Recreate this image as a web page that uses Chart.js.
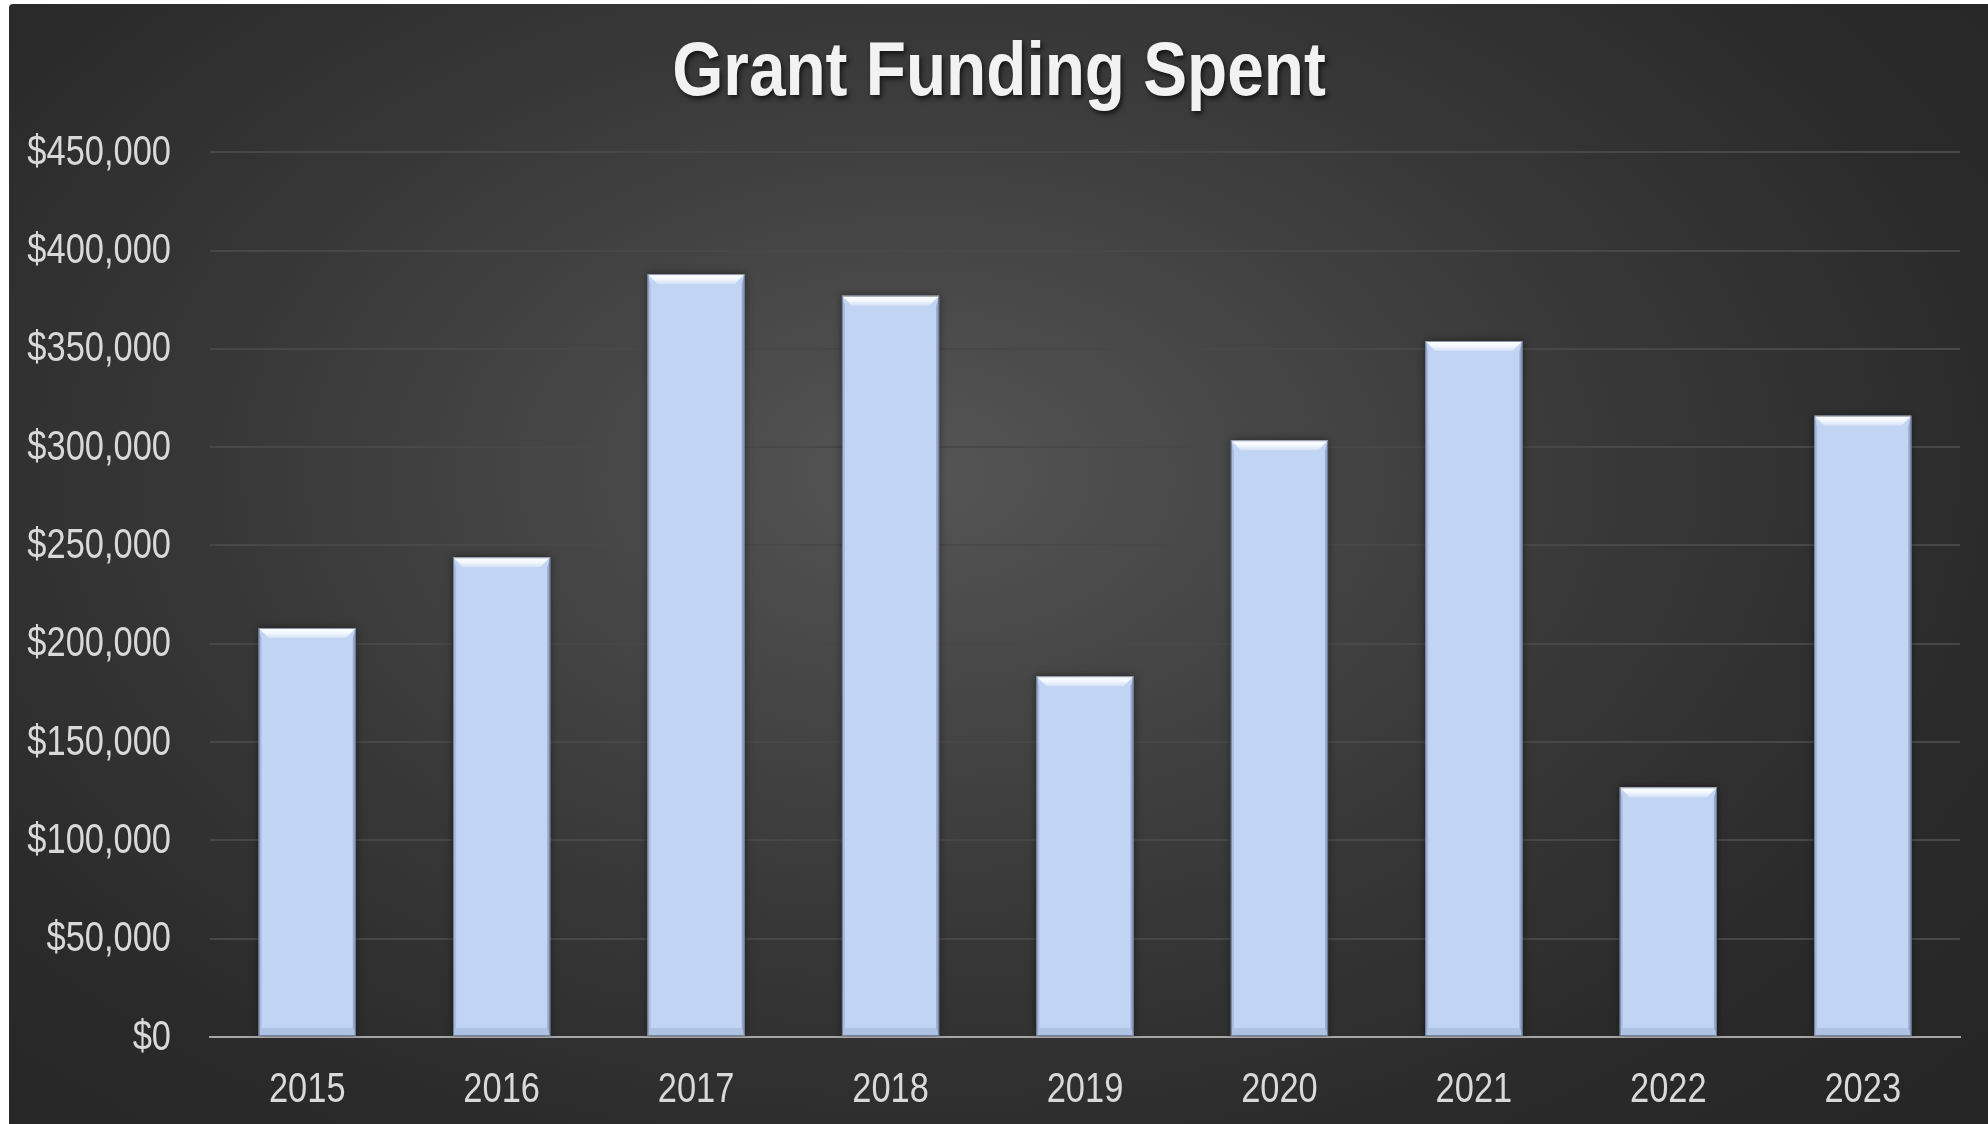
<!DOCTYPE html>
<html>
<head>
<meta charset="utf-8">
<script src="https://cdn.jsdelivr.net/npm/chart.js@4.4.1/dist/chart.umd.min.js"></script>
<style>
  html, body { margin: 0; padding: 0; background: #ffffff; width: 1988px; height: 1124px; overflow: hidden; }
  #panel {
    position: absolute; left: 9px; top: 4px; width: 1979px; height: 1120px;
    border-top-left-radius: 4px;
    background: radial-gradient(ellipse 70% 80% at 46% 42%, #555555 0%, #484848 22%, #383838 50%, #2b2b2b 78%, #262626 100%);
  }
  #wrap { position: absolute; left: 0; top: 0; width: 1988px; height: 1124px; }
</style>
</head>
<body>
<div id="panel"></div>
<div id="wrap"><canvas id="c" width="1988" height="1124"></canvas></div>
<script>
const categories = ['2015', '2016', '2017', '2018', '2019', '2020', '2021', '2022', '2023'];
const grantSpent = [208000, 244000, 388000, 377000, 183500, 303500, 354000, 127000, 316000];
const yTickValues = [0, 50000, 100000, 150000, 200000, 250000, 300000, 350000, 400000, 450000];
const chartTitle = 'Grant Funding Spent';

const FONT = '"Liberation Sans", Arial, sans-serif';
const BAR_COLOR = '#c1d4f3';
const LABEL_COLOR = '#d9d9d9';
const NARROW = 0.82;

function fmtMoney(v) { return '$' + Number(v).toLocaleString('en-US'); }

// draws text horizontally condensed (emulating a narrow typeface)
function narrowText(ctx, text, x, y, align, sx) {
  ctx.save();
  ctx.translate(x, y);
  ctx.scale(sx, 1);
  ctx.textAlign = align;
  ctx.fillText(text, 0, 0);
  ctx.restore();
}

const labelsPlugin = {
  id: 'narrowLabels',
  afterDraw(chart) {
    const ctx = chart.ctx;
    const xs = chart.scales.x, ys = chart.scales.y;
    ctx.save();
    ctx.fillStyle = LABEL_COLOR;
    ctx.font = '42px ' + FONT;
    ctx.textBaseline = 'middle';
    ys.ticks.forEach((t, i) => {
      const py = ys.getPixelForTick(i);
      narrowText(ctx, fmtMoney(t.value), ys.right - 39, py + 1, 'right', NARROW);
    });
    ctx.textBaseline = 'alphabetic';
    xs.ticks.forEach((t, i) => {
      const px = xs.getPixelForTick(i);
      narrowText(ctx, xs.getLabelForValue(t.value), px, chart.chartArea.bottom + 65, 'center', NARROW);
    });
    // title
    ctx.font = 'bold 76px ' + FONT;
    ctx.fillStyle = '#f2f2f2';
    ctx.shadowColor = 'rgba(0,0,0,0.65)';
    ctx.shadowBlur = 5;
    ctx.shadowOffsetX = 2;
    ctx.shadowOffsetY = 3;
    narrowText(ctx, chartTitle, 999, 95, 'center', 0.865);
    ctx.restore();
  }
};

const bevelPlugin = {
  id: 'bevel',
  afterDatasetsDraw(chart) {
    const ctx = chart.ctx;
    const meta = chart.getDatasetMeta(0);
    meta.data.forEach(bar => {
      const p = bar.getProps(['x', 'y', 'base', 'width'], true);
      const l = p.x - p.width / 2, r = p.x + p.width / 2;
      const t = Math.min(p.y, p.base), b = Math.max(p.y, p.base);
      const bt = 10, bs = 3, bb = 8;
      ctx.save();
      ctx.fillStyle = 'rgba(150,168,205,0.55)';
      ctx.beginPath();
      ctx.moveTo(l, t); ctx.lineTo(l + bs, t + bt); ctx.lineTo(l + bs, b - bb); ctx.lineTo(l, b);
      ctx.closePath(); ctx.fill();
      ctx.fillStyle = 'rgba(120,138,175,0.6)';
      ctx.beginPath();
      ctx.moveTo(r, t); ctx.lineTo(r - bs, t + bt); ctx.lineTo(r - bs, b - bb); ctx.lineTo(r, b);
      ctx.closePath(); ctx.fill();
      ctx.fillStyle = 'rgba(140,160,200,0.35)';
      ctx.beginPath();
      ctx.moveTo(l, b); ctx.lineTo(l + bs, b - bb); ctx.lineTo(r - bs, b - bb); ctx.lineTo(r, b);
      ctx.closePath(); ctx.fill();
      const g = ctx.createLinearGradient(0, t, 0, t + bt);
      g.addColorStop(0, '#ffffff');
      g.addColorStop(0.5, '#f4f8ff');
      g.addColorStop(1, '#d3e0f6');
      ctx.fillStyle = g;
      ctx.beginPath();
      ctx.moveTo(l, t); ctx.lineTo(r, t); ctx.lineTo(r - bt, t + bt); ctx.lineTo(l + bt, t + bt);
      ctx.closePath(); ctx.fill();
      ctx.strokeStyle = 'rgba(90,100,125,0.7)';
      ctx.lineWidth = 1;
      ctx.strokeRect(l + 0.5, t + 0.5, p.width - 1, b - t - 1);
      ctx.restore();
    });
  }
};

const shadowPlugin = {
  id: 'barShadow',
  beforeDatasetsDraw(chart) {
    chart.ctx.save();
    chart.ctx.shadowColor = 'rgba(0,0,0,0.45)';
    chart.ctx.shadowBlur = 8;
  },
  afterDatasetsDraw(chart) {
    chart.ctx.restore();
  }
};

new Chart(document.getElementById('c'), {
  type: 'bar',
  data: {
    labels: categories,
    datasets: [{
      data: grantSpent,
      backgroundColor: BAR_COLOR,
      borderWidth: 0,
      categoryPercentage: 1.0,
      barPercentage: 0.5
    }]
  },
  options: {
    responsive: false,
    animation: false,
    layout: { padding: { left: 0, right: 28, top: 0, bottom: 15 } },
    plugins: {
      legend: { display: false },
      tooltip: { enabled: false },
      title: {
        display: true,
        text: chartTitle,
        color: 'rgba(0,0,0,0)',
        font: { family: FONT, size: 76, weight: 'bold', lineHeight: 1.2 },
        padding: { top: 22, bottom: 39 }
      }
    },
    scales: {
      x: {
        afterFit(scale) { scale.height = 72; },
        grid: { display: false, drawTicks: false },
        border: { display: true, color: '#a6a6a6', width: 2 },
        ticks: { color: 'rgba(0,0,0,0)', font: { family: FONT, size: 42 }, padding: 22, maxRotation: 0 }
      },
      y: {
        min: 0,
        max: 450000,
        afterFit(scale) { scale.width = 210; },
        afterBuildTicks(scale) { scale.ticks = yTickValues.map(v => ({ value: v })); },
        grid: {
          drawTicks: false,
          color: ctx => ctx.tick && ctx.tick.value === 0 ? 'rgba(0,0,0,0)' : '#484848',
          lineWidth: 2
        },
        border: { display: false },
        ticks: {
          color: 'rgba(0,0,0,0)',
          font: { family: FONT, size: 42 },
          padding: 39,
          callback: v => fmtMoney(v)
        }
      }
    }
  },
  plugins: [shadowPlugin, bevelPlugin, labelsPlugin]
});
</script>
</body>
</html>
